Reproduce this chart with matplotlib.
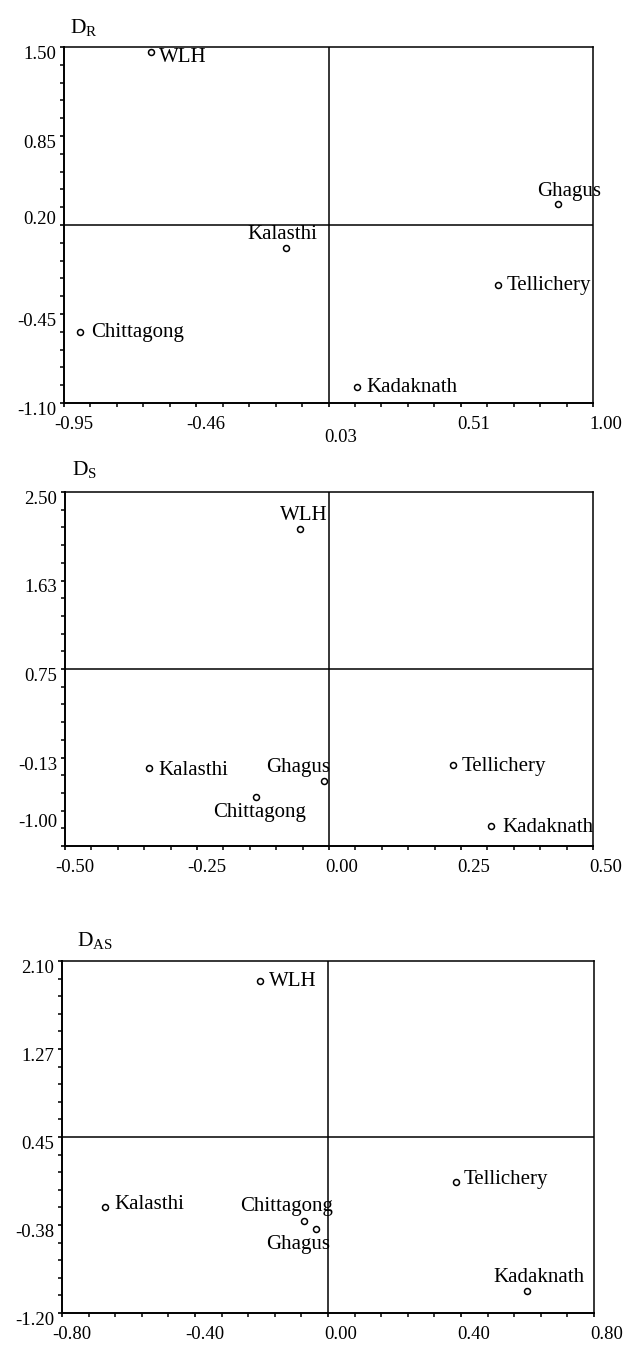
import matplotlib
matplotlib.use('Agg')
import matplotlib.pyplot as plt
from matplotlib.ticker import AutoMinorLocator
from matplotlib.transforms import ScaledTranslation

plt.rcParams['font.family'] = ['Liberation Serif', 'DejaVu Serif']
plt.rcParams['mathtext.fontset'] = 'custom'
plt.rcParams['mathtext.rm'] = 'Liberation Serif'
plt.rcParams['mathtext.it'] = 'Liberation Serif:italic'
plt.rcParams['mathtext.bf'] = 'Liberation Serif:bold'
plt.rcParams['axes.unicode_minus'] = False

# ---------------- data ----------------
# Panel D_R
dr_names = ['WLH', 'Ghagus', 'Kalasthi', 'Tellichery', 'Chittagong', 'Kadaknath']
dr_x = [-0.63, 0.87, -0.13, 0.65, -0.89, 0.13]
dr_y = [1.46, 0.35, 0.03, -0.24, -0.58, -0.98]
dr_xticks = [-0.95, -0.4625, 0.025, 0.5125, 1.00]
dr_xticklabels = ['-0.95', '-0.46', '0.03', '0.51', '1.00']
dr_yticks = [1.50, 0.85, 0.20, -0.45, -1.10]
dr_yticklabels = ['1.50', '0.85', '0.20', '-0.45', '-1.10']

# Panel D_S
ds_names = ['WLH', 'Kalasthi', 'Ghagus', 'Chittagong', 'Tellichery', 'Kadaknath']
ds_x = [-0.054, -0.34, -0.009, -0.138, 0.235, 0.307]
ds_y = [2.135, -0.23, -0.355, -0.516, -0.204, -0.799]
ds_xticks = [-0.50, -0.25, 0.00, 0.25, 0.50]
ds_xticklabels = ['-0.50', '-0.25', '0.00', '0.25', '0.50']
ds_yticks = [2.50, 1.625, 0.75, -0.125, -1.00]
ds_yticklabels = ['2.50', '1.63', '0.75', '-0.13', '-1.00']

# Panel D_AS
das_names = ['WLH', 'Kalasthi', 'Chittagong', 'Ghagus', 'Tellichery', 'Kadaknath']
das_x = [-0.204, -0.671, -0.071, -0.035, 0.384, 0.599]
das_y = [1.908, -0.208, -0.335, -0.409, 0.025, -0.998]
das_xticks = [-0.80, -0.40, 0.00, 0.40, 0.80]
das_xticklabels = ['-0.80', '-0.40', '0.00', '0.40', '0.80']
das_yticks = [2.10, 1.275, 0.45, -0.375, -1.20]
das_yticklabels = ['2.10', '1.27', '0.45', '-0.38', '-1.20']

# ---------------- layout / style ----------------
W, H, DPI = 623, 1345, 100
fig = plt.figure(figsize=(W / DPI, H / DPI), dpi=DPI)
fig.patch.set_facecolor('white')


def px(dx, dy):
    return ScaledTranslation(dx / DPI, dy / DPI, fig.dpi_scale_trans)


panels = [
    dict(title=r'$\mathrm{D_R}$', rect=(64, 47, 593, 403), title_xy=(70, 33),
         names=dr_names, x=dr_x, y=dr_y,
         xt=dr_xticks, xtl=dr_xticklabels, yt=dr_yticks, ytl=dr_yticklabels,
         # label offsets (dx px, dy px up, ha)
         lab={'WLH': (8, -10, 'left'), 'Ghagus': (11, 8.5, 'center'),
              'Kalasthi': (-4, 9.5, 'center'), 'Tellichery': (9, -4.5, 'left'),
              'Chittagong': (11, -5.5, 'left'), 'Kadaknath': (9, -5.5, 'left')},
         xshift={2: (0, -13)}, yshift={}, yva={2: 'baseline'}),
    dict(title=r'$\mathrm{D_S}$', rect=(65, 492, 593, 846), title_xy=(72, 475),
         names=ds_names, x=ds_x, y=ds_y,
         xt=ds_xticks, xtl=ds_xticklabels, yt=ds_yticks, ytl=ds_yticklabels,
         lab={'WLH': (3, 8.5, 'center'), 'Kalasthi': (9, -6.5, 'left'),
              'Ghagus': (-26, 8.5, 'center'), 'Chittagong': (3.5, -19.5, 'center'),
              'Tellichery': (9, -6, 'left'), 'Kadaknath': (11, -6.5, 'left')},
         xshift={}, yshift={4: (0, 31)}, yva={}),
    dict(title=r'$\mathrm{D_{AS}}$', rect=(62, 961, 594, 1313), title_xy=(77, 946),
         names=das_names, x=das_x, y=das_y,
         xt=das_xticks, xtl=das_xticklabels, yt=das_yticks, ytl=das_yticklabels,
         lab={'WLH': (9, -5, 'left'), 'Kalasthi': (9, -1.5, 'left'),
              'Chittagong': (-18, 9.5, 'center'), 'Ghagus': (-18, -20.5, 'center'),
              'Tellichery': (8, -1.5, 'left'), 'Kadaknath': (11.5, 9.5, 'center')},
         xshift={}, yshift={}, yva={}),
]

LW = 1.1
for p in panels:
    l, t, r, b = p['rect']
    ax = fig.add_axes([l / W, 1 - b / H, (r - l) / W, (b - t) / H])
    ax.set_xlim(p['xt'][0], p['xt'][-1])
    ax.set_ylim(p['yt'][-1], p['yt'][0])
    for s in ax.spines.values():
        s.set_linewidth(LW)
        s.set_color('black')
    ax.spines['left'].set_linewidth(1.4)
    ax.spines['bottom'].set_linewidth(1.4)
    ax.axvline(p['xt'][2], color='black', lw=LW, zorder=1)
    ax.axhline(p['yt'][2], color='black', lw=LW, zorder=1)

    ax.set_xticks(p['xt'], p['xtl'])
    ax.set_yticks(p['yt'], p['ytl'])
    ax.xaxis.set_minor_locator(AutoMinorLocator(5))
    ax.yaxis.set_minor_locator(AutoMinorLocator(5))
    ax.tick_params(which='both', direction='out', top=False, right=False,
                   color='black', labelsize=13.5)
    ax.tick_params(which='major', length=3.2, width=1.2)
    ax.tick_params(which='minor', length=2.8, width=1.1)
    ax.tick_params(axis='x', pad=6.5)
    ax.tick_params(axis='y', pad=2.5)

    for i, lbl in enumerate(ax.get_xticklabels()):
        lbl.set_horizontalalignment('right')
        dx, dy = p['xshift'].get(i, (0, 0))
        lbl.set_transform(lbl.get_transform() + px(29 + dx, dy))
    for i, lbl in enumerate(ax.get_yticklabels()):
        lbl.set_verticalalignment(p['yva'].get(i, 'top'))
        dx, dy = p['yshift'].get(i, (0, 0))
        lbl.set_transform(lbl.get_transform() + px(dx, 1 + dy))

    ax.plot(p['x'], p['y'], linestyle='none', marker='o', ms=4.3,
            mfc='white', mec='black', mew=1.1, zorder=3, clip_on=False)
    for name, xv, yv in zip(p['names'], p['x'], p['y']):
        dx, dy, ha = p['lab'][name]
        ax.annotate(name, (xv, yv), xytext=(dx * 0.72, dy * 0.72),
                    textcoords='offset points', ha=ha, va='baseline',
                    fontsize=15, color='black', zorder=4,
                    annotation_clip=False)

    tx, ty = p['title_xy']
    fig.text(tx / W, 1 - ty / H, p['title'], fontsize=15.5, ha='left',
             va='baseline')

fig.savefig('out.png', dpi=DPI, facecolor='white')
